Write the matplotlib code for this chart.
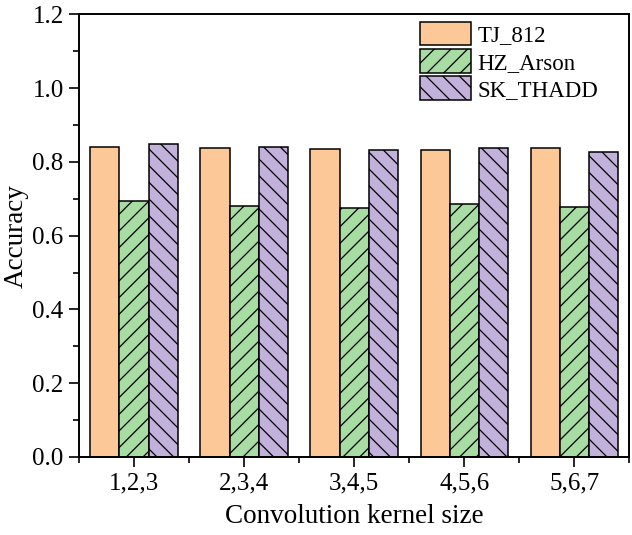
import numpy as np
import matplotlib.pyplot as plt
from matplotlib.ticker import MultipleLocator

plt.rcParams['font.family'] = ['Liberation Serif', 'DejaVu Serif']
plt.rcParams['hatch.linewidth'] = 0.9

kernels = ['1,2,3', '2,3,4', '3,4,5', '4,5,6', '5,6,7']
tj_812 = [0.841, 0.837, 0.835, 0.832, 0.837]
hz_arson = [0.693, 0.680, 0.674, 0.686, 0.677]
sk_thadd = [0.848, 0.841, 0.831, 0.839, 0.828]

series_names = ['TJ_812', 'HZ_Arson', 'SK_THADD']
colors = ['#FDC897', '#A7DCA2', '#C2B1DA']
hatches = [None, '//', '\\\\']

fig = plt.figure(figsize=(6.32, 5.35), dpi=100)
ax = fig.add_axes([0.125, 0.146, 0.871, 0.827])

x = np.arange(len(kernels))
w = 0.265
for i, (vals, name) in enumerate(zip([tj_812, hz_arson, sk_thadd], series_names)):
    ax.bar(x + (i - 1) * w, vals, width=w, color=colors[i], edgecolor='black',
           linewidth=1.1, hatch=hatches[i], label=name)

ax.set_xlim(-0.5, len(kernels) - 0.5)
ax.set_ylim(0, 1.2)
ax.set_xticks(x)
ax.set_xticklabels(kernels)
ax.xaxis.set_minor_locator(MultipleLocator(1, offset=0.5))
ax.yaxis.set_major_locator(MultipleLocator(0.2))
ax.yaxis.set_minor_locator(MultipleLocator(0.1))
ax.yaxis.set_major_formatter(plt.FuncFormatter(lambda v, p: f'{v:.1f}'))

ax.tick_params(which='both', direction='out', width=1.2, labelsize=18, top=False, right=False)
ax.tick_params(which='major', length=7, pad=4)
ax.tick_params(which='minor', length=4)
for s in ax.spines.values():
    s.set_linewidth(1.4)

ax.set_xlabel('Convolution kernel size', fontsize=19.5, labelpad=7)
ax.set_ylabel('Accuracy', fontsize=19.5, labelpad=3)

ax.legend(loc='upper left', bbox_to_anchor=(0.62, 0.983), frameon=False, fontsize=16.5,
          borderpad=0, borderaxespad=0, handlelength=2.2, handleheight=1.2,
          labelspacing=0.12, handletextpad=0.3)

fig.savefig('out.png', dpi=100)
